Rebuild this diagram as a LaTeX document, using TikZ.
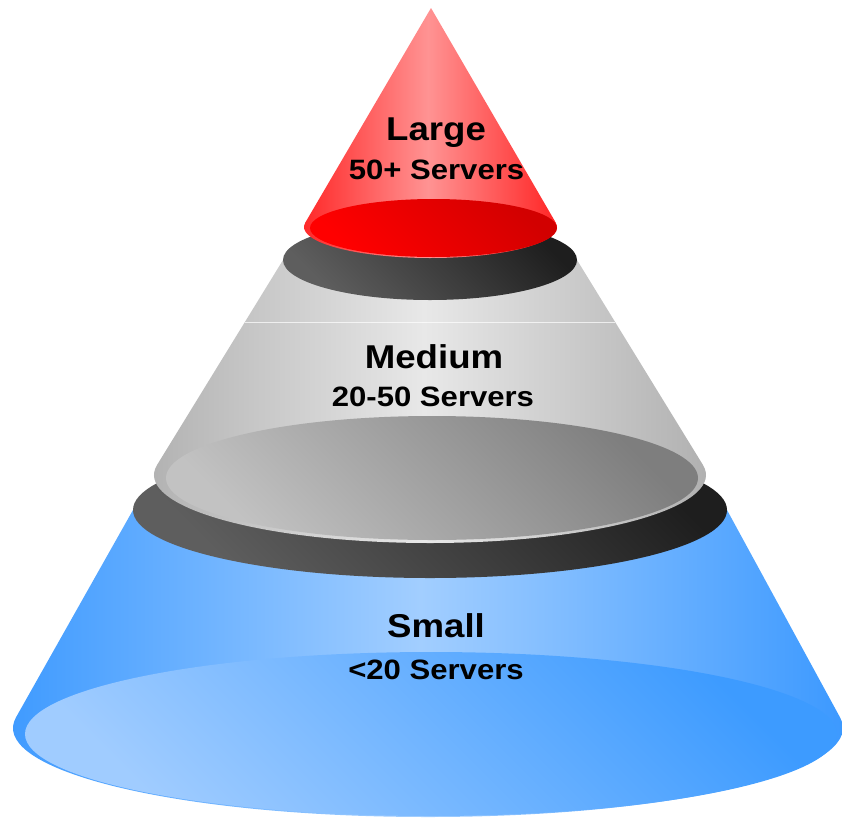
\documentclass[tikz,border=0pt]{standalone}
\usepackage{fontspec}
\usetikzlibrary{calc}
\newfontfamily\lblfont[FakeStretch=1.11]{Liberation Sans}
\definecolor{blueedge}{HTML}{3A98FF}
\definecolor{bluemid}{HTML}{A2CEFF}
\definecolor{bluedark}{HTML}{3D9BFF}
\definecolor{bluelight}{HTML}{A0CCFF}
\definecolor{darkA}{HTML}{1E1E1E}
\definecolor{darkB}{HTML}{5E5E5E}
\definecolor{grayedge}{HTML}{AFAFAF}
\definecolor{graymid}{HTML}{E8E8E8}
\definecolor{grayA}{HTML}{7E7E7E}
\definecolor{grayB}{HTML}{C2C2C2}
\definecolor{rededge}{HTML}{FF2222}
\definecolor{redmid}{HTML}{FF9393}
\definecolor{redA}{HTML}{D20000}
\definecolor{redB}{HTML}{FF0000}
\begin{document}
\begin{tikzpicture}[x=1pt,y=1pt,yscale=-1,
  body/.style 2 args={left color=#1, right color=#1, middle color=#2},
  disc/.style 2 args={top color=#1, bottom color=#2, shading angle=-45},
  seam/.style={draw=white, opacity=0.7, line width=0.8pt},
  lblbig/.style={font=\lblfont\bfseries\fontsize{33}{36}\selectfont, text=black, inner sep=0pt, anchor=base},
  lblsmall/.style={font=\lblfont\bfseries\fontsize{28}{32}\selectfont, text=black, inner sep=0pt, anchor=base}]
\useasboundingbox (0,0) rectangle (842,819);
% small tier
\shade[body={blueedge}{bluemid}] (133,510) -- ($(428,728)+(186.91:415 and 89)$)
  arc[start angle=186.91, end angle=-6.67, x radius=415, y radius=89] -- (727,510) -- cycle;
\shade[disc={bluedark}{bluelight}] (431,734) ellipse [x radius=406, y radius=82];
\shade[disc={darkA}{darkB}] (430,510) ellipse [x radius=297, y radius=68];
% medium tier
\shade[body={grayedge}{graymid}] (283,260) -- ($(430,475)+(188.61:276 and 68)$)
  arc[start angle=188.61, end angle=-8.61, x radius=276, y radius=68] -- (577,260) -- cycle;
\draw[seam] (244.9,322) -- (615.1,322);
\shade[disc={grayA}{grayB}] (432,478) ellipse [x radius=266, y radius=62];
\shade[disc={darkA}{darkB}] (430,260) ellipse [x radius=147, y radius=40];
% large tier
\shade[body={rededge}{redmid}] (431,8) -- ($(430.5,227)+(188.17:126.5 and 31)$)
  arc[start angle=188.17, end angle=-8.11, x radius=126.5, y radius=31] -- cycle;
\shade[disc={redA}{redB}] (433.5,228) ellipse [x radius=123.5, y radius=29];
% labels
\node[lblbig] (large) at (436,140) {Large};
\node[lblsmall] (largesub) at (436.5,179) {50+ Servers};
\node[lblbig] (medium) at (434,368) {Medium};
\node[lblsmall] (mediumsub) at (433,406) {20-50 Servers};
\node[lblbig] (small) at (436,637) {Small};
\node[lblsmall] (smallsub) at (436,679) {<20 Servers};
\end{tikzpicture}
\end{document}
